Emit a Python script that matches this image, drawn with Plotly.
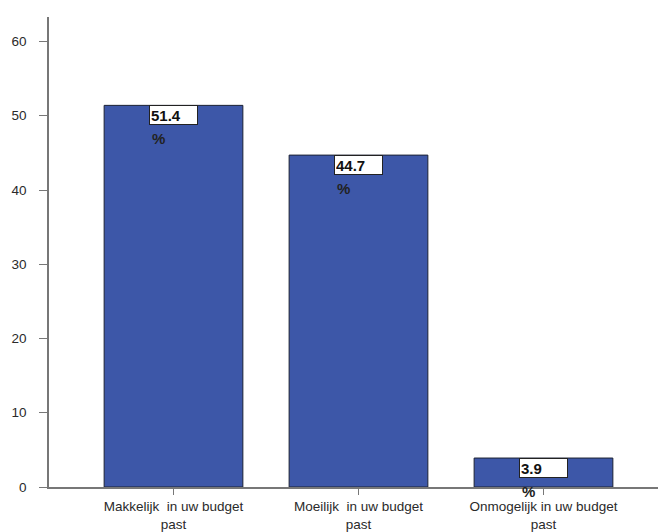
import plotly.graph_objects as go

categories = ["Makkelijk  in uw budget<br>past", "Moeilijk  in uw budget<br>past", "Onmogelijk in uw budget<br>past"]
values = [51.4, 44.7, 3.9]
value_labels = ["51.4", "44.7", "3.9"]

fig = go.Figure()
fig.add_trace(go.Bar(
    x=list(range(len(categories))), y=values, width=0.75,
    marker=dict(color="#3d57a8", line=dict(color="#1c2233", width=1)),
    hoverinfo="skip",
))

annotations = []
for i, (v, lab) in enumerate(zip(values, value_labels)):
    annotations.append(dict(
        x=i, y=v, xref="x", yref="y", text="<b>" + lab + "</b>", showarrow=False,
        xanchor="center", yanchor="top", align="left", width=45, height=16,
        bgcolor="white", bordercolor="#222", borderwidth=1, borderpad=1,
        font=dict(family="Liberation Sans, Arial", size=15, color="#111"),
    ))
    annotations.append(dict(
        x=i, y=v, xref="x", yref="y", text="<b>%</b>", showarrow=False,
        xanchor="center", yanchor="middle", xshift=-15, yshift=-33,
        font=dict(family="Liberation Sans, Arial", size=15, color="#222"),
    ))

fig.update_layout(
    width=658, height=532,
    margin=dict(l=49, r=0, t=17, b=45),
    paper_bgcolor="white", plot_bgcolor="white",
    showlegend=False,
    annotations=annotations,
    font=dict(family="Liberation Sans, Arial", size=13.5, color="#333"),
    xaxis=dict(
        range=[-0.673, 2.619], tickmode="array", tickvals=list(range(len(categories))),
        ticktext=categories, showgrid=False, zeroline=False,
        showline=True, linecolor="#777", linewidth=1.5,
        ticks="outside", ticklen=6, tickcolor="#777", tickwidth=1,
        tickfont=dict(size=13.5, color="#2a2a2a"),
    ),
    yaxis=dict(
        range=[0, 63.3], tickvals=[0, 10, 20, 30, 40, 50, 60], showgrid=False, zeroline=False,
        showline=True, linecolor="#777", linewidth=1.5,
        ticks="outside", ticklen=8, tickcolor="#777", tickwidth=1,
        tickfont=dict(size=13.5, color="#2a2a2a"), ticklabelstandoff=10,
    ),
)

fig.write_html("out.html")
